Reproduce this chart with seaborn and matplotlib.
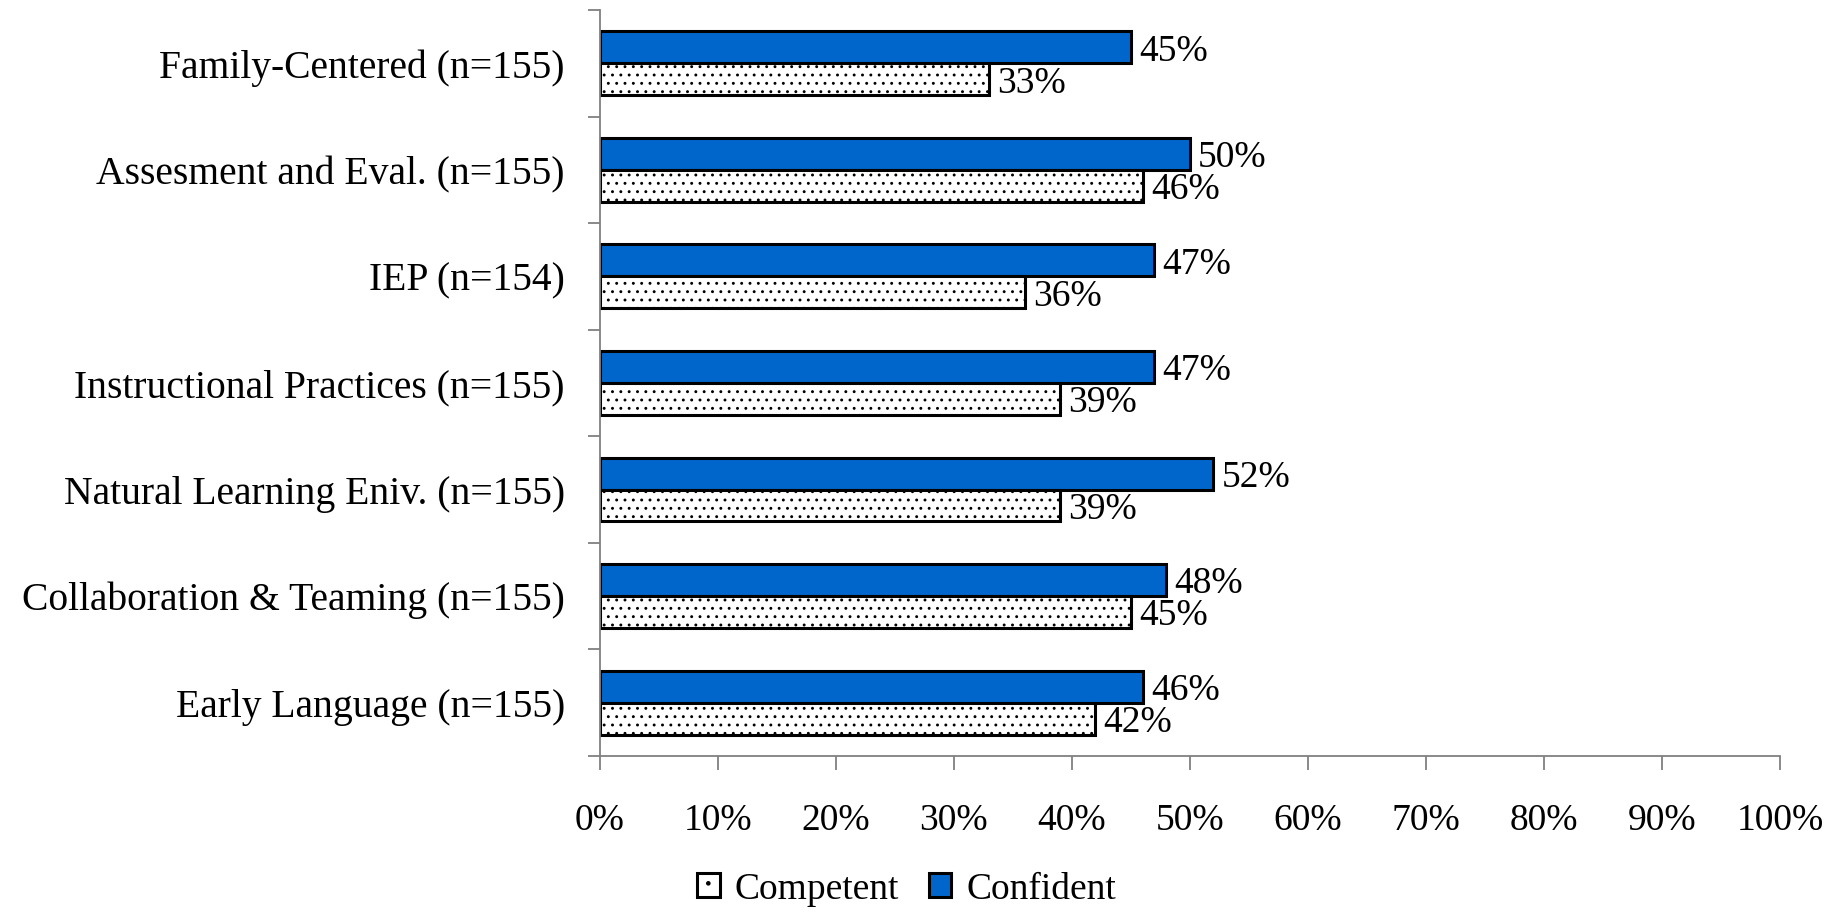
import matplotlib
matplotlib.use("Agg")
import matplotlib.pyplot as plt
from matplotlib.patches import Patch
from matplotlib.ticker import FixedLocator, PercentFormatter
import seaborn as sns
import pandas as pd

categories = [
    "Family-Centered (n=155)",
    "Assesment and Eval. (n=155)",
    "IEP (n=154)",
    "Instructional Practices (n=155)",
    "Natural Learning Eniv. (n=155)",
    "Collaboration & Teaming (n=155)",
    "Early Language (n=155)",
]
confident = [45, 50, 47, 47, 52, 48, 46]
competent = [33, 46, 36, 39, 39, 45, 42]
series_names = ["Confident", "Competent"]
x_ticks = list(range(0, 101, 10))

BLUE = "#0066CC"
GRAY = "#808080"
FS_Y = 28.5
FS = 27

sns.set_theme(style="white")
plt.rcParams["font.family"] = ["Liberation Serif", "DejaVu Serif"]
plt.rcParams["text.color"] = "black"
plt.rcParams["xtick.color"] = "black"
plt.rcParams["ytick.color"] = "black"
plt.rcParams["hatch.linewidth"] = 0.9
plt.rcParams["hatch.color"] = "black"

df = pd.DataFrame({
    "category": categories * 2,
    "series": [series_names[0]] * len(categories) + [series_names[1]] * len(categories),
    "value": confident + competent,
})

fig = plt.figure(figsize=(18.39, 9.14), dpi=100)
ax = fig.add_axes([0.326, 0.173, 0.968 - 0.326, 0.989 - 0.173])

sns.barplot(
    data=df, y="category", x="value", hue="series",
    order=categories, hue_order=series_names,
    palette={"Confident": BLUE, "Competent": "white"},
    orient="h", width=0.6, legend=False, ax=ax,
    edgecolor="black", linewidth=2.2, saturation=1,
)

# hatch for Competent bars
for bar in ax.containers[1]:
    bar.set_hatch("..")

# value labels
for cont in ax.containers:
    for bar in cont:
        w = bar.get_width()
        yc = bar.get_y() + bar.get_height() / 2
        ax.annotate(f"{w:.0f}%", xy=(w, yc), xytext=(6, -3),
                    textcoords="offset points", ha="left", va="center",
                    fontsize=FS, color="black")

ax.set_xlim(0, 100)
ax.set_ylim(len(categories) - 0.5, -0.5)
ax.xaxis.set_major_locator(FixedLocator(x_ticks))
ax.xaxis.set_major_formatter(PercentFormatter(decimals=0))
ax.set_xlabel("")
ax.set_ylabel("")

for s in ["top", "right"]:
    ax.spines[s].set_visible(False)
for s in ["left", "bottom"]:
    ax.spines[s].set_color(GRAY)
    ax.spines[s].set_linewidth(1.3)

ax.tick_params(axis="x", which="major", direction="out", length=10, width=1.3,
               color=GRAY, pad=24, labelsize=FS, bottom=True, labelcolor="black")
ax.tick_params(axis="y", which="major", length=0, pad=25, labelsize=FS_Y, left=True,
               labelcolor="black")
ax.yaxis.set_minor_locator(FixedLocator([i - 0.5 for i in range(len(categories) + 1)]))
ax.tick_params(axis="y", which="minor", direction="out", length=9, width=1.3,
               color=GRAY, left=True)

handles = [
    Patch(facecolor="white", edgecolor="black", hatch=".", linewidth=2.2, label="Competent"),
    Patch(facecolor=BLUE, edgecolor="black", linewidth=2.2, label="Confident"),
]
fig.legend(handles=handles, loc="center", bbox_to_anchor=(0.493, 0.027), ncol=2,
           frameon=False, fontsize=FS, handlelength=0.6, handleheight=0.6,
           handletextpad=0.4, columnspacing=0.8)

fig.savefig("out.png", dpi=100)
